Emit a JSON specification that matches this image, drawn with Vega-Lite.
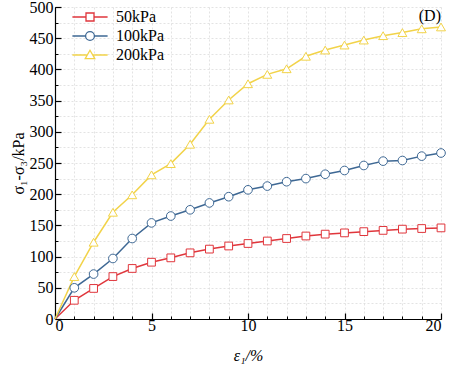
{
  "$schema": "https://vega.github.io/schema/vega-lite/v6.json",
  "width": 386,
  "height": 312,
  "autosize": "none",
  "padding": {"left": 55, "top": 7, "right": 11, "bottom": 51},
  "background": "white",
  "config": {
    "font": "Liberation Serif",
    "view": {"stroke": null},
    "style": {"guide-label": {"font": "Liberation Serif", "fill": "black"}, "guide-title": {"font": "Liberation Serif", "fill": "black"}, "group-title": {"font": "Liberation Serif"}},
    "axis": {"labelFont": "Liberation Serif", "titleFont": "Liberation Serif", "labelColor": "black", "titleColor": "black"},
    "legend": {"labelFont": "Liberation Serif", "titleFont": "Liberation Serif"}
  },
  "title": {"text": "(D)", "anchor": "end", "frame": "group", "offset": -25, "fontSize": 16, "fontWeight": "normal", "font": "Liberation Serif", "color": "black"},
  "data": {"values": [
    {"strain": 0, "stress": 0, "series": "50kPa"},
    {"strain": 1, "stress": 30, "series": "50kPa"},
    {"strain": 2, "stress": 49, "series": "50kPa"},
    {"strain": 3, "stress": 68, "series": "50kPa"},
    {"strain": 4, "stress": 81, "series": "50kPa"},
    {"strain": 5, "stress": 91, "series": "50kPa"},
    {"strain": 6, "stress": 98, "series": "50kPa"},
    {"strain": 7, "stress": 106, "series": "50kPa"},
    {"strain": 8, "stress": 112, "series": "50kPa"},
    {"strain": 9, "stress": 117, "series": "50kPa"},
    {"strain": 10, "stress": 121, "series": "50kPa"},
    {"strain": 11, "stress": 125, "series": "50kPa"},
    {"strain": 12, "stress": 129, "series": "50kPa"},
    {"strain": 13, "stress": 133, "series": "50kPa"},
    {"strain": 14, "stress": 136, "series": "50kPa"},
    {"strain": 15, "stress": 138, "series": "50kPa"},
    {"strain": 16, "stress": 140, "series": "50kPa"},
    {"strain": 17, "stress": 142, "series": "50kPa"},
    {"strain": 18, "stress": 144, "series": "50kPa"},
    {"strain": 19, "stress": 145, "series": "50kPa"},
    {"strain": 20, "stress": 146, "series": "50kPa"},
    {"strain": 0, "stress": 0, "series": "100kPa"},
    {"strain": 1, "stress": 50, "series": "100kPa"},
    {"strain": 2, "stress": 72, "series": "100kPa"},
    {"strain": 3, "stress": 97, "series": "100kPa"},
    {"strain": 4, "stress": 129, "series": "100kPa"},
    {"strain": 5, "stress": 154, "series": "100kPa"},
    {"strain": 6, "stress": 165, "series": "100kPa"},
    {"strain": 7, "stress": 175, "series": "100kPa"},
    {"strain": 8, "stress": 186, "series": "100kPa"},
    {"strain": 9, "stress": 196, "series": "100kPa"},
    {"strain": 10, "stress": 207, "series": "100kPa"},
    {"strain": 11, "stress": 213, "series": "100kPa"},
    {"strain": 12, "stress": 220, "series": "100kPa"},
    {"strain": 13, "stress": 225, "series": "100kPa"},
    {"strain": 14, "stress": 232, "series": "100kPa"},
    {"strain": 15, "stress": 238, "series": "100kPa"},
    {"strain": 16, "stress": 246, "series": "100kPa"},
    {"strain": 17, "stress": 253, "series": "100kPa"},
    {"strain": 18, "stress": 254, "series": "100kPa"},
    {"strain": 19, "stress": 261, "series": "100kPa"},
    {"strain": 20, "stress": 266, "series": "100kPa"},
    {"strain": 0, "stress": 0, "series": "200kPa"},
    {"strain": 1, "stress": 68, "series": "200kPa"},
    {"strain": 2, "stress": 123, "series": "200kPa"},
    {"strain": 3, "stress": 171, "series": "200kPa"},
    {"strain": 4, "stress": 199, "series": "200kPa"},
    {"strain": 5, "stress": 231, "series": "200kPa"},
    {"strain": 6, "stress": 249, "series": "200kPa"},
    {"strain": 7, "stress": 280, "series": "200kPa"},
    {"strain": 8, "stress": 320, "series": "200kPa"},
    {"strain": 9, "stress": 351, "series": "200kPa"},
    {"strain": 10, "stress": 377, "series": "200kPa"},
    {"strain": 11, "stress": 392, "series": "200kPa"},
    {"strain": 12, "stress": 401, "series": "200kPa"},
    {"strain": 13, "stress": 421, "series": "200kPa"},
    {"strain": 14, "stress": 431, "series": "200kPa"},
    {"strain": 15, "stress": 439, "series": "200kPa"},
    {"strain": 16, "stress": 447, "series": "200kPa"},
    {"strain": 17, "stress": 454, "series": "200kPa"},
    {"strain": 18, "stress": 459, "series": "200kPa"},
    {"strain": 19, "stress": 465, "series": "200kPa"},
    {"strain": 20, "stress": 468, "series": "200kPa"}
  ]},
  "resolve": {"axis": {"x": "independent", "y": "independent"}},
  "layer": [
    {
      "transform": [{"filter": "datum.strain < 0"}],
      "mark": {"type": "point", "opacity": 0},
      "encoding": {
        "x": {"field": "strain", "type": "quantitative", "scale": {"domain": [0, 20], "nice": false, "zero": true},
          "axis": {"orient": "bottom", "values": [0,1,2,3,4,5,6,7,8,9,10,11,12,13,14,15,16,17,18,19,20], "labels": false, "domain": false, "ticks": true, "tickSize": -3, "tickColor": "black", "tickWidth": 1, "grid": true, "gridColor": "#dcdcdc", "gridDash": [2, 2], "gridWidth": 0.8, "title": null}},
        "y": {"field": "stress", "type": "quantitative", "scale": {"domain": [0, 500], "nice": false},
          "axis": {"orient": "left", "values": [0,25,50,75,100,125,150,175,200,225,250,275,300,325,350,375,400,425,450,475,500], "labels": false, "domain": false, "ticks": true, "tickSize": -3, "tickColor": "black", "tickWidth": 1, "grid": true, "gridColor": "#dcdcdc", "gridDash": [2, 2], "gridWidth": 0.8, "title": null}}
      }
    },
    {
      "mark": {"type": "line", "strokeWidth": 1.5},
      "encoding": {
        "x": {"field": "strain", "type": "quantitative",
          "axis": {"orient": "bottom", "values": [0, 5, 10, 15, 20], "tickSize": -6, "tickWidth": 1.2, "tickColor": "black", "domainColor": "black", "domainWidth": 1.2, "labelFont": "Liberation Serif", "labelFontSize": 16, "labelPadding": 4, "grid": false, "title": "ε₁/%", "titleFont": "Liberation Serif", "titleFontSize": 16, "titleFontWeight": "normal", "titleFontStyle": "italic", "titleY": 36, "titleBaseline": "middle"}},
        "y": {"field": "stress", "type": "quantitative",
          "axis": {"orient": "left", "values": [0, 50, 100, 150, 200, 250, 300, 350, 400, 450, 500], "tickSize": -6, "tickWidth": 1.2, "tickColor": "black", "domainColor": "black", "domainWidth": 1.2, "labelFont": "Liberation Serif", "labelFontSize": 16, "labelPadding": 8, "grid": false, "title": "σ₁-σ₃/kPa", "titleFont": "Liberation Serif", "titleFontSize": 16, "titleFontWeight": "normal", "titleX": -37, "titleBaseline": "middle"}},
        "color": {"field": "series", "type": "nominal", "scale": {"domain": ["50kPa", "100kPa", "200kPa"], "range": ["#e0363c", "#3e6894", "#f2d349"]}},
        "detail": {"field": "series"}
      }
    },
    {
      "transform": [{"filter": "datum.series == '50kPa' && datum.strain > 0"}],
      "mark": {"type": "point", "shape": "square", "filled": false, "fill": "white", "size": 60, "strokeWidth": 1, "opacity": 1},
      "encoding": {
        "x": {"field": "strain", "type": "quantitative", "axis": null},
        "y": {"field": "stress", "type": "quantitative", "axis": null},
        "color": {"field": "series", "type": "nominal"}
      }
    },
    {
      "transform": [{"filter": "datum.series == '100kPa' && datum.strain > 0"}],
      "mark": {"type": "point", "shape": "circle", "filled": false, "fill": "white", "size": 75, "strokeWidth": 1, "opacity": 1},
      "encoding": {
        "x": {"field": "strain", "type": "quantitative", "axis": null},
        "y": {"field": "stress", "type": "quantitative", "axis": null},
        "color": {"field": "series", "type": "nominal"}
      }
    },
    {
      "transform": [{"filter": "datum.series == '200kPa' && datum.strain > 0"}],
      "mark": {"type": "point", "shape": "triangle-up", "filled": false, "fill": "white", "size": 80, "strokeWidth": 1, "opacity": 1},
      "encoding": {
        "x": {"field": "strain", "type": "quantitative", "axis": null},
        "y": {"field": "stress", "type": "quantitative", "axis": null},
        "color": {"field": "series", "type": "nominal"}
      }
    },
    {
      "transform": [{"filter": "datum.strain < 0"}],
      "mark": {"type": "point", "filled": false, "opacity": 1},
      "encoding": {
        "x": {"field": "strain", "type": "quantitative", "axis": null},
        "y": {"field": "stress", "type": "quantitative", "axis": null},
        "color": {"field": "series", "type": "nominal"},
        "shape": {"field": "series", "type": "nominal",
          "scale": {"domain": ["50kPa", "100kPa", "200kPa"], "range": [
            "M-4.4,0H-1M1,0H4.4M-1,-1H1V1H-1Z",
            "M-4.4,0H-1.1M1.1,0H4.4M-1.1,0A1.1,1.1 0 1,0 1.1,0A1.1,1.1 0 1,0 -1.1,0Z",
            "M-4.4,0H-0.6M0.6,0H4.4M0,-1.2L1.2,0.9H-1.2Z"]},
          "legend": {"orient": "none", "legendX": 27, "legendY": 2, "padding": 0, "title": null, "symbolSize": 64, "symbolStrokeWidth": 1.3, "symbolOffset": 0, "labelFont": "Liberation Serif", "labelFontSize": 16, "labelColor": "black", "labelOffset": 18, "rowPadding": 3,
            "encode": {"symbols": {"update": {"fill": {"value": "white"}}}}}}
      }
    }
  ]
}
